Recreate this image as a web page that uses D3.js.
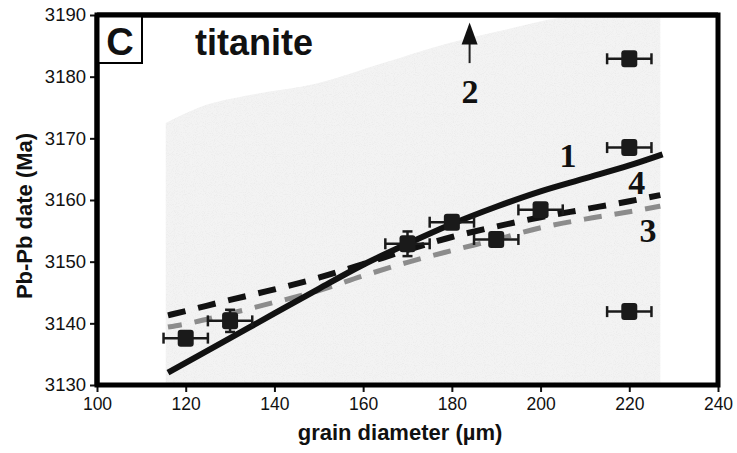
<!DOCTYPE html>
<html>
<head>
<meta charset="utf-8">
<script src="https://cdn.jsdelivr.net/npm/d3@7"></script>
<style>
  html, body { margin: 0; padding: 0; background: #fff; }
  svg { display: block; }
</style>
</head>
<body>
<svg id="chart" width="737" height="453"></svg>
<script>
// ---- data ----
const xTicks = [100, 120, 140, 160, 180, 200, 220, 240];
const yTicks = [3130, 3140, 3150, 3160, 3170, 3180, 3190];

// measured grains: diameter (µm), Pb-Pb date (Ma), errors
const grainDiameter = [120, 130, 170, 180, 190, 200, 220, 220, 220];
const pbDate        = [3137.6, 3140.4, 3152.9, 3156.4, 3153.6, 3158.4, 3182.9, 3168.5, 3141.9];
const diameterErr   = [5, 5, 5, 5, 5, 5, 5, 5, 5];
const dateErr       = [0, 1.8, 2.0, 0, 0, 0, 0, 0, 0];

// model curves [diameter, date]
const model1 = [[116,3132],[130,3137.6],[140,3141.6],[150,3145.6],[160,3149.5],[170,3152.9],[180,3156.1],[190,3158.9],[200,3161.4],[210,3163.5],[220,3165.6],[227.5,3167.4]];
const model4 = [[116,3141.3],[120,3142],[130,3143.8],[140,3145.5],[150,3147.4],[160,3149.6],[170,3151.9],[180,3154],[190,3155.7],[200,3157.2],[210,3158.5],[220,3159.8],[227,3160.8]];
const model3 = [[116,3139.4],[120,3139.9],[130,3141.6],[140,3143.4],[150,3145.3],[160,3147.7],[170,3149.9],[180,3151.8],[190,3153.6],[200,3155.5],[210,3156.9],[220,3158.1],[227,3159]];

// upper edge of the shaded envelope (model 2 spread)
const envelopeTop = [[115.5,3172.5],[123,3175],[135,3177.1],[149.5,3178.9],[164.5,3182.2],[179.6,3185.5],[193.2,3187.8],[204.5,3189.6],[210,3190],[227,3190]];
const envelopeLeft = 115.5, envelopeRight = 227;

const curveLabels = [
  {text: "1", x: 206.2, y: 3165.4},
  {text: "4", x: 221.7, y: 3161},
  {text: "3", x: 224.2, y: 3153.2},
  {text: "2", x: 184.1, y: 3175.7}
];

// ---- scales ----
const svg = d3.select("#chart");
const x = d3.scaleLinear().domain([100, 240]).range([97, 718]);
const y = d3.scaleLinear().domain([3130, 3190]).range([385, 15]);

// ---- shaded envelope with fine grain ----
const defs = svg.append("defs");
const grain = defs.append("filter").attr("id", "grain")
  .attr("x", 0).attr("y", 0).attr("width", "100%").attr("height", "100%");
grain.append("feTurbulence").attr("type", "fractalNoise")
  .attr("baseFrequency", 1.1).attr("numOctaves", 1).attr("seed", 7).attr("result", "noise");
grain.append("feColorMatrix").attr("in", "noise").attr("type", "matrix")
  .attr("values", "0 0 0 0 0.7  0 0 0 0 0.7  0 0 0 0 0.7  0 0 0 0.9 -0.42")
  .attr("result", "dots");
grain.append("feComposite").attr("in", "dots").attr("in2", "SourceGraphic").attr("operator", "in");

// smooth top edge, straight sides down to the x axis
const topLine = d3.line().x(d => x(d[0])).y(d => y(d[1])).curve(d3.curveMonotoneX);
const envD = "M" + x(envelopeLeft) + "," + y(3130) +
  "L" + topLine(envelopeTop).slice(1) +
  "L" + x(envelopeRight) + "," + y(3130) + "Z";
svg.append("path").attr("d", envD).attr("fill", "#f3f3f3");
svg.append("path").attr("d", envD).attr("fill", "#000").attr("filter", "url(#grain)");

// ---- model curves ----
const line = d3.line().x(d => x(d[0])).y(d => y(d[1])).curve(d3.curveMonotoneX);
svg.append("path").datum(model3).attr("d", line)
  .attr("fill", "none").attr("stroke", "#8c8c8c").attr("stroke-width", 5)
  .attr("stroke-dasharray", "18,13").attr("stroke-dashoffset", 4);
svg.append("path").datum(model4).attr("d", line)
  .attr("fill", "none").attr("stroke", "#111").attr("stroke-width", 6)
  .attr("stroke-dasharray", "18,13");
svg.append("path").datum(model1).attr("d", line)
  .attr("fill", "none").attr("stroke", "#111").attr("stroke-width", 6);

// ---- data points with error bars ----
const pts = grainDiameter.map((d, i) => ({x: d, y: pbDate[i], ex: diameterErr[i], ey: dateErr[i]}));
const g = svg.append("g").attr("stroke", "#1a1a1a").attr("stroke-width", 2.5);
pts.forEach(p => {
  const cx = x(p.x), cy = y(p.y);
  g.append("line").attr("x1", x(p.x - p.ex)).attr("x2", x(p.x + p.ex)).attr("y1", cy).attr("y2", cy);
  g.append("line").attr("x1", x(p.x - p.ex)).attr("x2", x(p.x - p.ex)).attr("y1", cy - 5.5).attr("y2", cy + 5.5);
  g.append("line").attr("x1", x(p.x + p.ex)).attr("x2", x(p.x + p.ex)).attr("y1", cy - 5.5).attr("y2", cy + 5.5);
  if (p.ey > 0) {
    g.append("line").attr("x1", cx).attr("x2", cx).attr("y1", y(p.y - p.ey)).attr("y2", y(p.y + p.ey));
    g.append("line").attr("x1", cx - 5).attr("x2", cx + 5).attr("y1", y(p.y + p.ey)).attr("y2", y(p.y + p.ey));
    g.append("line").attr("x1", cx - 5).attr("x2", cx + 5).attr("y1", y(p.y - p.ey)).attr("y2", y(p.y - p.ey));
  }
  svg.append("rect").attr("x", cx - 8).attr("y", cy - 8.5).attr("width", 16).attr("height", 17)
    .attr("rx", 3).attr("fill", "#1a1a1a");
});

// ---- curve numbers ----
svg.selectAll("text.curve").data(curveLabels).enter().append("text")
  .attr("class", "curve")
  .attr("x", d => x(d.x)).attr("y", d => y(d.y))
  .attr("text-anchor", "middle")
  .attr("font-family", "'Liberation Serif', 'Times New Roman', serif")
  .attr("font-weight", "bold").attr("font-size", 34).attr("fill", "#111")
  .text(d => d.text);

// arrow above curve 2 label
const arrowX = x(184);
svg.append("line").attr("x1", arrowX).attr("x2", arrowX).attr("y1", y(3182.2)).attr("y2", y(3186))
  .attr("stroke", "#222").attr("stroke-width", 2);
svg.append("path")
  .attr("d", `M${arrowX},${y(3188.8)} L${arrowX - 8},${y(3185.2)} L${arrowX + 8},${y(3185.2)} Z`)
  .attr("fill", "#111");

// ---- axes ----
const fontSans = "'Liberation Sans', Arial, Helvetica, sans-serif";
const xAxis = svg.append("g").attr("transform", `translate(0,${y(3130)})`)
  .call(d3.axisBottom(x).tickValues(xTicks).tickSize(7).tickPadding(6).tickFormat(d3.format("d")));
const yAxis = svg.append("g").attr("transform", `translate(${x(100)},0)`)
  .call(d3.axisLeft(y).tickValues(yTicks).tickSize(7).tickPadding(4).tickFormat(d3.format("d")));
[xAxis, yAxis].forEach(a => {
  a.select(".domain").remove();
  a.selectAll(".tick line").attr("stroke", "#111").attr("stroke-width", 2);
  a.selectAll(".tick text").attr("font-family", fontSans).attr("fill", "#111");
});
xAxis.selectAll(".tick text").attr("font-size", 17.5);
yAxis.selectAll(".tick text").attr("font-size", 18.5);

// frame
svg.append("rect").attr("x", x(100)).attr("y", y(3190)).attr("width", x(240) - x(100)).attr("height", y(3130) - y(3190))
  .attr("fill", "none").attr("stroke", "#000").attr("stroke-width", 5);

// panel letter box
svg.append("rect").attr("x", x(100)).attr("y", y(3190)).attr("width", 45).attr("height", 48)
  .attr("fill", "#fff").attr("stroke", "#000").attr("stroke-width", 2);
svg.append("line").attr("x1", x(100)).attr("x2", x(240)).attr("y1", y(3190)).attr("y2", y(3190))
  .attr("stroke", "#000").attr("stroke-width", 5);
svg.append("line").attr("x1", x(100)).attr("x2", x(100)).attr("y1", y(3190)).attr("y2", y(3130))
  .attr("stroke", "#000").attr("stroke-width", 5);
svg.append("text").attr("x", 120).attr("y", 55).attr("text-anchor", "middle")
  .attr("font-family", fontSans).attr("font-weight", "bold").attr("font-size", 38).attr("fill", "#111").text("C");
svg.append("text").attr("x", 195).attr("y", 55)
  .attr("font-family", fontSans).attr("font-weight", "bold").attr("font-size", 36).attr("fill", "#111").text("titanite");

// axis titles
svg.append("text").attr("x", 400).attr("y", 440).attr("text-anchor", "middle")
  .attr("font-family", fontSans).attr("font-weight", "bold").attr("font-size", 22).attr("fill", "#111")
  .text("grain diameter (µm)");
svg.append("text").attr("transform", "translate(32,216) rotate(-90)").attr("text-anchor", "middle")
  .attr("font-family", fontSans).attr("font-weight", "bold").attr("font-size", 22).attr("fill", "#111")
  .text("Pb-Pb date (Ma)");
</script>
</body>
</html>
